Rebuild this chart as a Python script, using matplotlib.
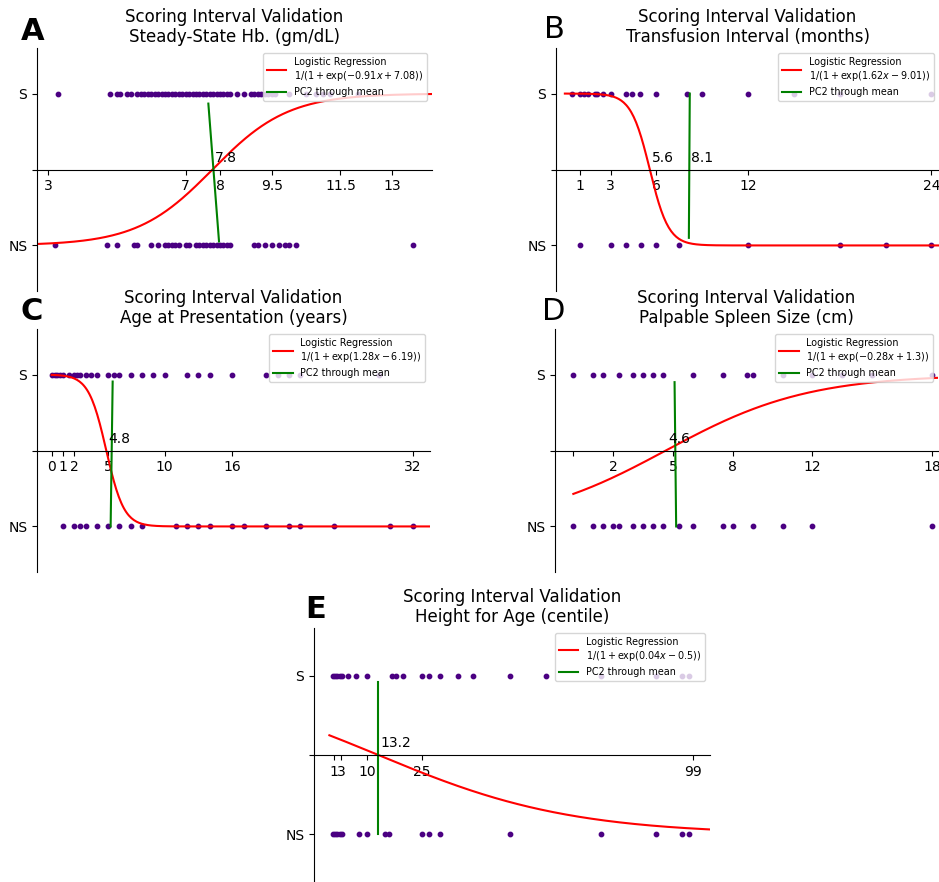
import numpy as np
import matplotlib
matplotlib.use("Agg")
import matplotlib.pyplot as plt

W, H = 939, 882

# ---------------- data ----------------
titles = ["Steady-State Hb. (gm/dL)", "Transfusion Interval (months)",
          "Age at Presentation (years)", "Palpable Spleen Size (cm)",
          "Height for Age (centile)"]
letters = ["A", "B", "C", "D", "E"]

A_S = [3.3, 4.8, 5.0, 5.1, 5.3, 5.4, 5.6, 5.7, 5.8, 5.9, 6.0, 6.1, 6.2, 6.3, 6.4, 6.5,
       6.6, 6.7, 6.8, 6.9, 7.0, 7.1, 7.2, 7.3, 7.4, 7.5, 7.6, 7.7, 7.8, 7.9, 8.0, 8.1,
       8.2, 8.3, 8.5, 8.7, 8.9, 9.0, 9.1, 9.2, 9.3, 9.4, 9.5, 9.6, 10.0, 10.5, 10.8,
       11.0, 11.2, 12.0]
A_NS = [3.2, 4.7, 5.0, 5.5, 5.6, 6.0, 6.2, 6.4, 6.5, 6.6, 6.7, 6.8, 7.0, 7.1, 7.3, 7.4,
        7.5, 7.6, 7.7, 7.8, 7.9, 8.0, 8.1, 8.2, 8.3, 9.0, 9.1, 9.3, 9.5, 9.7, 9.9, 10.0,
        10.2, 13.6]
B_S = [0.5, 1, 1.25, 1.5, 2, 2.1, 2.5, 3, 4, 4.4, 4.9, 6, 8, 9, 12, 15, 18, 24]
B_NS = [1, 3, 4, 5, 6, 7.5, 12, 18, 21, 24]
C_S = [0, 0.25, 0.5, 0.75, 1, 1.5, 2, 2.25, 2.5, 3, 3.5, 4, 5, 5.5, 6, 7, 8, 9, 10, 12,
       13, 14, 16, 19, 20, 21, 22, 29]
C_NS = [1, 2, 2.5, 3, 4, 5, 6, 7, 8, 11, 12, 13, 14, 16, 17, 19, 21, 22, 25, 30, 32]
D_S = [0, 1, 1.5, 2.3, 3, 3.5, 4, 4.5, 6, 7.5, 8.7, 9, 10.5, 12, 13.5, 15, 18]
D_NS = [0, 1, 1.5, 2, 2.3, 3, 3.5, 4, 4.5, 5.3, 6, 7.5, 8, 9, 10.5, 12, 18]
E_S = [0.7, 1.4, 2, 2.7, 3.2, 5, 7, 10, 17, 18, 20, 25, 27, 30, 35, 39, 49, 59, 74, 89,
       96, 98]
E_NS = [0.7, 1.4, 2, 2.7, 3.2, 8, 10, 15, 16, 25, 27, 30, 49, 74, 89, 96, 98]

s_values = [A_S, B_S, C_S, D_S, E_S]
ns_values = [A_NS, B_NS, C_NS, D_NS, E_NS]

# logistic: y = 1/(1+exp(k*x + c))
slopes = [-0.91, 1.62, 1.28, -0.28, 0.038]
intercepts = [7.08, -9.01, -6.19, 1.3, -0.5]

# PC2 line end points (x_top, y_top, x_bottom, y_bottom)
pc2_lines = [(7.66, 0.934, 7.97, 0.026), (8.18, 1.0, 8.12, 0.05),
             (5.40, 0.954, 5.22, 0.0), (5.08, 0.95, 5.16, 0.0),
             (13.2, 0.958, 13.2, 0.0)]
extra_marks = [[], [8.1], [], [], []]

xticks = [[3, 7, 8, 9.5, 11.5, 13], [1, 3, 6, 12, 24], [0, 1, 2, 5, 10, 16, 32],
          [0, 2, 5, 8, 12, 18], [1, 3, 10, 25, 99]]
xticklabels = [["3", "7", "8", "9.5", "11.5", "13"], ["1", "3", "6", "12", "24"],
               ["0", "1", "2", "5", "10", "16", "32"], ["", "2", "5", "8", "12", "18"],
               ["1", "3", "10", "25", "99"]]

# ---------------- layout ----------------
boxes = [(37, 48, 432, 291), (556, 48, 939, 291), (37, 329, 430, 572),
         (555, 329, 938, 572), (314, 628, 710, 882)]
xlims = [(2.68, 14.16), (-0.58, 24.5), (-1.3, 33.5), (-0.92, 18.3), (-4.4, 103.7)]
curve_ranges = [(2.68, 14.16), (0, 24.5), (0, 33.5), (0, 18.3), (-0.2, 103.7)]
letter_pos = [(33, 31), (554, 30), (32, 312), (554, 312), (316, 609)]
letter_bold = [True, False, True, False, True]

fig = plt.figure(figsize=(W / 100, H / 100), dpi=100)


def fmt(v):
    return f"{round(v, 2):g}"


for i in range(5):
    l, t, r, b = boxes[i]
    ax = fig.add_axes([l / W, 1 - b / H, (r - l) / W, (b - t) / H])
    k, c = slopes[i], intercepts[i]
    xs = s_values[i]
    xn = ns_values[i]
    ax.scatter(xs, np.ones(len(xs)), s=10, color="indigo", zorder=1)
    ax.scatter(xn, np.zeros(len(xn)), s=10, color="indigo", zorder=1)
    xc = np.linspace(curve_ranges[i][0], curve_ranges[i][1], 300)
    yc = 1 / (1 + np.exp(k * xc + c))
    sign = "+" if c >= 0 else "-"
    label = ("Logistic Regression\n" +
             r"$1/(1+\exp(" + fmt(k) + "x" + sign + fmt(abs(c)) + "))$")
    ax.plot(xc, yc, color="red", lw=1.5, label=label)
    x0, y0, x1, y1 = pc2_lines[i]
    ax.plot([x0, x1], [y0, y1], color="green", lw=1.5, label="PC2 through mean")
    mid = -c / k
    for v in [mid] + extra_marks[i]:
        ax.annotate(f"{v:.1f}", (v, 0.5), xytext=(1.5, 5.5), textcoords="offset points",
                    ha="left", va="baseline", fontsize=10)
    ax.set_xlim(*xlims[i])
    ax.set_ylim(-0.3, 1.3)
    ax.spines["top"].set_visible(False)
    ax.spines["right"].set_visible(False)
    ax.spines["bottom"].set_position(("data", 0.5))
    ax.set_yticks([0, 0.5, 1])
    ax.set_yticklabels(["NS", "", "S"])
    ax.set_xticks(xticks[i])
    ax.set_xticklabels(xticklabels[i])
    ax.tick_params(labelsize=10)
    ax.set_title("Scoring Interval Validation\n" + titles[i], fontsize=12, pad=4,
                 linespacing=1.15)
    ax.legend(loc="upper right", fontsize="x-small")
    lx, ly = letter_pos[i]
    fig.text(lx / W, 1 - ly / H, letters[i], fontsize=22,
             fontweight="bold" if letter_bold[i] else "normal",
             ha="center", va="center")

fig.savefig("out.png", dpi=100)
